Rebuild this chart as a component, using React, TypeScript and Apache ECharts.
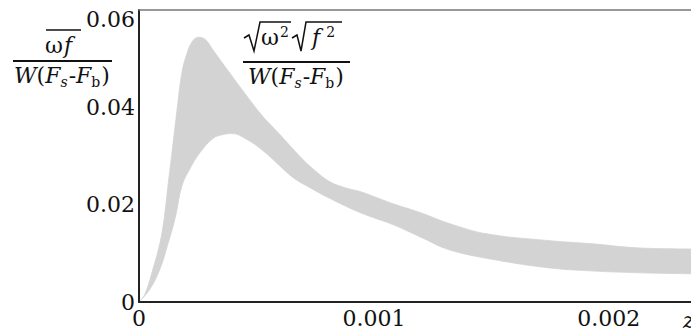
import React, { useEffect, useRef } from 'react';
import * as echarts from 'echarts';

// ---- axis ticks ----
const xTickLabels = ['0', '0.001', '0.002'];
const yTickLabels = ['0', '0.02', '0.04', '0.06'];
const xMin = 0;
const xMax = 0.00235;
const xStep = 0.001;
const yMin = 0;
const yMax = 0.06;
const yStep = 0.02;

// ---- upper envelope of the band ----
const upperX = [0, 0.0000255, 0.0000596, 0.0000894, 0.0001064, 0.0001234, 0.0001404, 0.0001617, 0.000183, 0.0002043, 0.0002255, 0.0002511, 0.0002809, 0.0003149, 0.0003872, 0.0004596, 0.0005277, 0.0006, 0.0006851, 0.0007489, 0.0008128, 0.0008766, 0.0009404, 0.001004, 0.001081, 0.001196, 0.001323, 0.001481, 0.001749, 0.001919, 0.002132, 0.00235];
const upperY = [0, 0.00165, 0.0068, 0.01216, 0.0169, 0.0239, 0.0307, 0.0394, 0.0472, 0.0511, 0.0534, 0.0544, 0.054, 0.0518, 0.047, 0.0423, 0.0381, 0.0344, 0.0299, 0.027, 0.0247, 0.0235, 0.0227, 0.0216, 0.0202, 0.0184, 0.0161, 0.014, 0.0126, 0.012, 0.0111, 0.0109];

// ---- lower envelope of the band ----
const lowerX = [0, 0.0000468, 0.0000894, 0.0001234, 0.0001532, 0.000183, 0.000217, 0.0002596, 0.0003149, 0.0003574, 0.0003957, 0.0004596, 0.0005277, 0.0005702, 0.0006553, 0.0007277, 0.0008, 0.0009404, 0.001081, 0.001196, 0.001323, 0.001536, 0.001749, 0.001919, 0.002132, 0.00235];
const lowerY = [0, 0.00268, 0.0068, 0.012, 0.0171, 0.0239, 0.0274, 0.0307, 0.0336, 0.0344, 0.0346, 0.0334, 0.0311, 0.0293, 0.0256, 0.0235, 0.0216, 0.0184, 0.0159, 0.0134, 0.0107, 0.0085, 0.007, 0.0064, 0.006, 0.0058];

const xAxisName = 'z';

// formula pieces: [text, size, italic, dy, gapBefore]
type Piece = [string, number, boolean, number, number];
const denomPieces: Piece[] = [
  ['W', 22, true, 0, 0],
  ['(', 22, false, 0, 0],
  ['F', 22, true, 0, 0],
  ['s', 14, true, 4, 0],
  ['-', 22, false, 0, 1],
  ['F', 22, true, 0, 0],
  ['b', 14, false, 4, 0],
  [')', 22, false, 0, 1],
];
const leftNumPieces: Piece[] = [
  ['ω', 22, false, 0, 0],
  ['f', 22, true, 0, 1],
];
const rightNumA: Piece[] = [
  ['ω', 22, false, 0, 0],
  ['2', 14, false, -8, 1],
];
const rightNumB: Piece[] = [
  ['f', 22, true, 0, 0],
  ['2', 14, false, -8, 6],
];

const FONT = 'DejaVu Serif';
const INK = '#111';
const BAND = '#d3d3d3';
const FS = 22;

const pairs = (xs: number[], ys: number[]) => xs.map((x, i) => [x, ys[i]]);

let ctx: CanvasRenderingContext2D | null = null;
const measure = (t: string, size: number, italic: boolean) => {
  if (!ctx) ctx = document.createElement('canvas').getContext('2d');
  if (!ctx) return t.length * size * 0.6;
  ctx.font = `${italic ? 'italic ' : ''}${size}px "${FONT}"`;
  return ctx.measureText(t).width;
};

const layoutPieces = (pieces: Piece[], x0: number, baseline: number) => {
  const out: any[] = [];
  let x = x0;
  for (const [t, size, italic, dy, gap] of pieces) {
    x += gap;
    out.push({
      type: 'text',
      x,
      y: baseline + dy - 0.346 * size,
      style: {
        text: t,
        fill: INK,
        fontFamily: FONT,
        fontSize: size,
        fontStyle: italic ? 'italic' : 'normal',
        align: 'left',
        verticalAlign: 'middle',
      },
    });
    x += measure(t, size, italic);
  }
  return out;
};

export default function App() {
  const ref = useRef<HTMLDivElement>(null);

  useEffect(() => {
    if (!ref.current) return;
    const chart = echarts.init(ref.current, undefined, { renderer: 'svg' });

    const graphics: any[] = [
      ...layoutPieces(leftNumPieces, 45, 53),
      { type: 'line', shape: { x1: 46, y1: 30, x2: 81, y2: 30 }, style: { stroke: INK, lineWidth: 1.5 } },
      { type: 'line', shape: { x1: 13, y1: 61, x2: 112, y2: 61 }, style: { stroke: INK, lineWidth: 1.8 } },
      ...layoutPieces(denomPieces, 14, 83),
      {
        type: 'polyline',
        shape: { points: [[244, 38], [249, 35], [254, 51], [260, 22], [291, 22]] },
        style: { stroke: INK, lineWidth: 1.5, fill: null },
      },
      ...layoutPieces(rightNumA, 261, 45),
      {
        type: 'polyline',
        shape: { points: [[292, 38], [297, 35], [301, 51], [306, 22], [342, 22]] },
        style: { stroke: INK, lineWidth: 1.5, fill: null },
      },
      ...layoutPieces(rightNumB, 312, 45),
      { type: 'line', shape: { x1: 243, y1: 62, x2: 350, y2: 62 }, style: { stroke: INK, lineWidth: 1.8 } },
      ...layoutPieces(denomPieces, 248, 84),
      // top tick label, set lower than its tick as in the reference
      {
        type: 'text',
        x: 135,
        y: 19,
        style: {
          text: yTickLabels[yTickLabels.length - 1],
          fill: INK,
          fontFamily: FONT,
          fontSize: FS,
          align: 'right',
          verticalAlign: 'middle',
        },
      },
      // axis name, partly cut at the right edge
      {
        type: 'text',
        x: 683,
        y: 320,
        style: {
          text: xAxisName,
          fill: INK,
          fontFamily: FONT,
          fontSize: FS,
          fontStyle: 'italic',
          align: 'left',
          verticalAlign: 'middle',
        },
      },
    ];

    const option: any = {
      animation: false,
      backgroundColor: '#fff',
      textStyle: { fontFamily: FONT },
      grid: { left: 139, right: 0, top: 10, bottom: 32, containLabel: false, outerBoundsMode: 'none' },
      xAxis: [
        {
          type: 'value',
          min: xMin,
          max: xMax,
          interval: xStep,
          position: 'bottom',
          z: 10,
          axisLine: { show: true, onZero: false, lineStyle: { color: '#222', width: 2 } },
          axisTick: { show: false },
          splitLine: { show: false },
          axisLabel: {
            show: true,
            showMaxLabel: false,
            margin: 5,
            fontFamily: FONT,
            fontSize: FS,
            color: INK,
            formatter: (v: number) => {
              const k = Math.round(v / xStep);
              return Math.abs(v - k * xStep) < 1e-9 ? (xTickLabels[k] ?? '') : '';
            },
          },
        },
        {
          type: 'value',
          min: xMin,
          max: xMax,
          interval: xStep,
          position: 'top',
          z: 10,
          axisLine: { show: true, onZero: false, lineStyle: { color: '#777', width: 1.5 } },
          axisTick: { show: false },
          splitLine: { show: false },
          axisLabel: { show: false },
        },
      ],
      yAxis: {
        type: 'value',
        min: yMin,
        max: yMax,
        interval: yStep,
        z: 10,
        axisLine: { show: true, onZero: false, lineStyle: { color: '#222', width: 2 } },
        axisTick: { show: false },
        splitLine: { show: false },
        axisLabel: {
          margin: 4,
          fontFamily: FONT,
          fontSize: FS,
          color: INK,
          padding: [0, 0, 5, 0],
          formatter: (v: number) => {
            const k = Math.round(v / yStep);
            if (k === yTickLabels.length - 1) return '';
            return yTickLabels[k] ?? '';
          },
        },
      },
      series: [
        {
          type: 'line',
          name: 'upper',
          data: pairs(upperX, upperY),
          smooth: 0.4,
          showSymbol: false,
          symbol: 'none',
          clip: true,
          z: 1,
          lineStyle: { color: BAND, width: 0.8 },
          areaStyle: { color: BAND, opacity: 1 },
        },
        {
          type: 'line',
          name: 'lower',
          data: pairs(lowerX, lowerY),
          smooth: 0.4,
          showSymbol: false,
          symbol: 'none',
          clip: true,
          z: 2,
          lineStyle: { color: BAND, width: 0.8 },
          areaStyle: { color: '#ffffff', opacity: 1 },
        },
      ],
      graphic: graphics,
    };

    chart.setOption(option);
    return () => chart.dispose();
  }, []);

  return (
    <div
      ref={ref}
      style={{ position: 'absolute', left: 0, top: 0, width: 691, height: 334, background: '#fff' }}
    />
  );
}
